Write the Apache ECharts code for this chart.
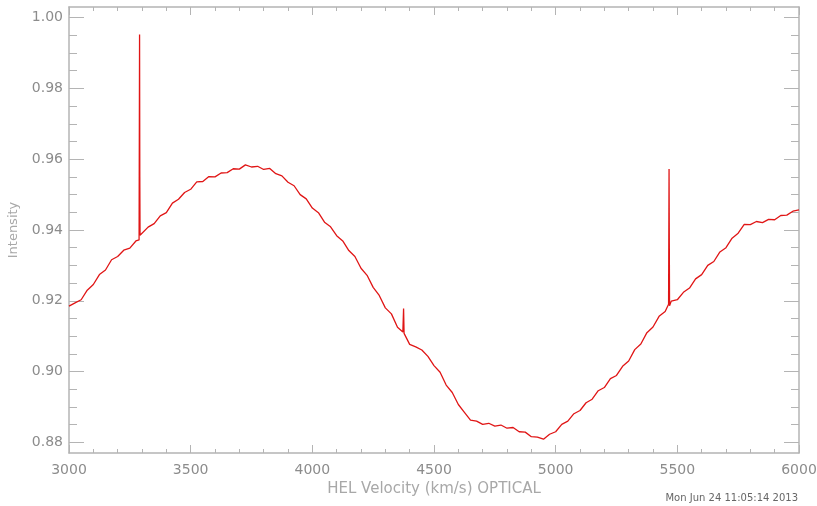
<!DOCTYPE html>
<html>
<head>
<meta charset="utf-8">
<script src="https://cdn.jsdelivr.net/npm/echarts@6/dist/echarts.min.js"></script>
<style>
    html, body { margin: 0; padding: 0; background: #ffffff; }
    #chart { width: 817px; height: 506px; }
</style>
</head>
<body>
<div id="chart"></div>
<script>
// velocity (km/s) and intensity
var velocity = [
    3000, 3025, 3050, 3075, 3100, 3125, 3150, 3175, 3200, 3225, 3250, 3275, 3288, 3290, 3291, 3292,
    3300, 3325, 3350, 3375, 3400, 3425, 3450, 3475, 3500, 3525, 3550, 3575, 3600, 3625, 3650, 3675,
    3700, 3725, 3750, 3775, 3800, 3825, 3850, 3875, 3900, 3925, 3950, 3975, 4000, 4025, 4050, 4075,
    4100, 4125, 4150, 4175, 4200, 4225, 4250, 4275, 4300, 4325, 4350, 4372, 4375, 4377, 4400, 4425,
    4450, 4475, 4500, 4525, 4550, 4575, 4600, 4625, 4650, 4675, 4700, 4725, 4750, 4775, 4800, 4825,
    4850, 4875, 4900, 4925, 4950, 4975, 5000, 5025, 5050, 5075, 5100, 5125, 5150, 5175, 5200, 5225,
    5250, 5275, 5300, 5325, 5350, 5375, 5400, 5425, 5450, 5464, 5466, 5467, 5468, 5475, 5500, 5525,
    5550, 5575, 5600, 5625, 5650, 5675, 5700, 5725, 5750, 5775, 5800, 5825, 5850, 5875, 5900, 5925,
    5950, 5975, 6000
];
var intensity = [
    0.9185, 0.9194, 0.9203, 0.9230, 0.9246, 0.9274, 0.9287, 0.9316, 0.9325, 0.9343, 0.9349, 0.9369, 0.9372, 0.9952, 0.9550, 0.9385,
    0.9381, 0.9408, 0.9418, 0.9440, 0.9449, 0.9476, 0.9487, 0.9506, 0.9515, 0.9536, 0.9537, 0.9551, 0.9550, 0.9561, 0.9562, 0.9573,
    0.9572, 0.9584, 0.9578, 0.9580, 0.9571, 0.9574, 0.9559, 0.9553, 0.9535, 0.9525, 0.9500, 0.9488, 0.9462, 0.9449, 0.9422, 0.9409,
    0.9384, 0.9369, 0.9342, 0.9325, 0.9292, 0.9272, 0.9238, 0.9215, 0.9180, 0.9163, 0.9125, 0.9112, 0.9178, 0.9108, 0.9077, 0.9070,
    0.9061, 0.9043, 0.9017, 0.8998, 0.8962, 0.8941, 0.8907, 0.8885, 0.8863, 0.8860, 0.8851, 0.8854, 0.8846, 0.8849, 0.8840, 0.8842,
    0.8830, 0.8829, 0.8816, 0.8815, 0.8809, 0.8823, 0.8830, 0.8851, 0.8860, 0.8881, 0.8890, 0.8912, 0.8922, 0.8946, 0.8955, 0.8980,
    0.8989, 0.9015, 0.9030, 0.9062, 0.9078, 0.9110, 0.9126, 0.9156, 0.9170, 0.9190, 0.9572, 0.9360, 0.9186, 0.9199, 0.9203, 0.9224,
    0.9236, 0.9262, 0.9274, 0.9300, 0.9311, 0.9338, 0.9350, 0.9377, 0.9391, 0.9416, 0.9415, 0.9424, 0.9421, 0.9430, 0.9429, 0.9441,
    0.9442, 0.9453, 0.9457
];
var yMajorTicks = [0.88, 0.90, 0.92, 0.94, 0.96, 0.98, 1.00];
var yMinorTicks = [0.885, 0.89, 0.895, 0.905, 0.91, 0.915, 0.925, 0.93, 0.935, 0.945, 0.95, 0.955,
    0.965, 0.97, 0.975, 0.985, 0.99, 0.995];
var timestamp = "Mon Jun 24 11:05:14 2013";

var axisColor = "#b4b4b4";
var labelColor = "#8c8c8c";
var fontFamily = "DejaVu Sans";

var seriesData = [];
for (let i = 0; i < velocity.length; i++) {
    seriesData.push([velocity[i], intensity[i]]);
}

function xAxisOption(position, showLabel) {
    return {
        type: "value",
        position: position,
        min: 3000,
        max: 6000,
        interval: 500,
        name: showLabel ? "HEL Velocity (km/s) OPTICAL" : "",
        nameLocation: "middle",
        nameGap: 28,
        nameTextStyle: { color: "#a8a8a8", fontSize: 15, fontFamily: fontFamily },
        axisLine: { show: true, lineStyle: { color: axisColor, width: 1.5 } },
        axisTick: { show: true, inside: true, length: 8, lineStyle: { color: axisColor } },
        minorTick: { show: true, splitNumber: 5, length: 4, lineStyle: { color: axisColor } },
        axisLabel: {
            show: showLabel,
            color: labelColor,
            fontSize: 14,
            fontFamily: fontFamily,
            margin: 10,
            formatter: function (v) { return String(v); }
        },
        splitLine: { show: false }
    };
}

function yAxisOption(position, ticks, len, main) {
    return {
        type: "value",
        position: position,
        min: 0.877,
        max: 1.003,
        name: main && position == "left" ? "Intensity" : "",
        nameLocation: "middle",
        nameGap: 49,
        nameRotate: 90,
        nameTextStyle: { color: "#a8a8a8", fontSize: 13, fontFamily: fontFamily },
        axisLine: { show: main, lineStyle: { color: axisColor, width: 1.5 } },
        axisTick: { show: true, inside: true, length: len, customValues: ticks, lineStyle: { color: axisColor } },
        axisLabel: {
            show: main && position == "left",
            customValues: yMajorTicks,
            color: labelColor,
            fontSize: 14,
            fontFamily: fontFamily,
            margin: 6,
            formatter: function (v) { return v.toFixed(2); }
        },
        splitLine: { show: false }
    };
}

var chart = echarts.init(document.getElementById("chart"), null, { renderer: "canvas" });
var option = {
    backgroundColor: "#ffffff",
    animation: false,
    grid: { left: 69, right: 18, top: 7, bottom: 53, containLabel: false, outerBoundsMode: "none" },
    xAxis: [xAxisOption("bottom", true), xAxisOption("top", false)],
    yAxis: [
        yAxisOption("left", yMajorTicks, 15, true),
        yAxisOption("left", yMinorTicks, 8, false),
        yAxisOption("right", yMajorTicks, 15, true),
        yAxisOption("right", yMinorTicks, 8, false)
    ],
    graphic: [
        {
            type: "text",
            right: 19,
            top: 493,
            style: { text: timestamp, fill: "#666666", fontSize: 10, fontFamily: fontFamily }
        }
    ],
    series: [
        {
            type: "line",
            xAxisIndex: 0,
            yAxisIndex: 0,
            data: seriesData,
            showSymbol: false,
            symbol: "none",
            lineStyle: { color: "#e01515", width: 1.3 }
        }
    ]
};
chart.setOption(option);
</script>
</body>
</html>
